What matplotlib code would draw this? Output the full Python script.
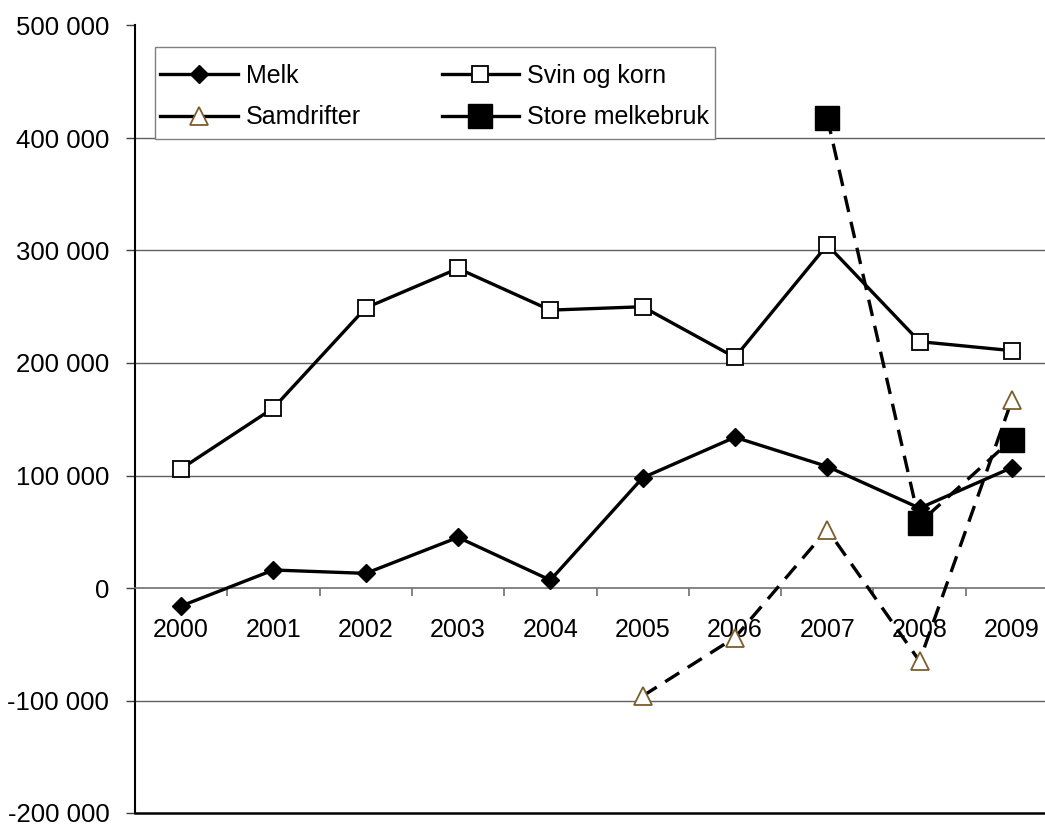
import matplotlib
matplotlib.use("Agg")
import matplotlib.pyplot as plt
from matplotlib.lines import Line2D
from matplotlib.patches import Rectangle
from matplotlib.ticker import FixedLocator, FuncFormatter

plt.rcParams['font.family'] = ['Liberation Sans', 'DejaVu Sans']

years = ['2000', '2001', '2002', '2003', '2004', '2005', '2006', '2007', '2008', '2009']
melk = [-16000, 16000, 13000, 45000, 7000, 98000, 134000, 108000, 71000, 107000]
svin_og_korn = [106000, 160000, 249000, 284000, 247000, 250000, 205000, 305000, 219000, 211000]
samdrifter_years = ['2005', '2006', '2007', '2008', '2009']
samdrifter = [-96000, -44000, 52000, -65000, 167000]
store_years = ['2007', '2008', '2009']
store_melkebruk = [418000, 58000, 132000]

W, H = 1045, 825
fig = plt.figure(figsize=(W / 100, H / 100), dpi=100)
ax = fig.add_axes([135 / W, 1 - 813 / H, (1058 - 135) / W, (813 - 25.5) / H])

pos = {y: i for i, y in enumerate(years)}
x_all = [pos[y] for y in years]
x_sam = [pos[y] for y in samdrifter_years]
x_store = [pos[y] for y in store_years]

lw = 2.4
dash = (0, (5, 3))
brown = '#7b5e2c'

st_melk = dict(color='black', lw=lw, marker='D', ms=8.8, mfc='black', mec='black')
st_svin = dict(color='black', lw=lw, marker='s', ms=11.5, mfc='white', mec='black', mew=1.3)
st_sam = dict(color='black', lw=lw, marker='^', ms=13.5, mfc='white', mec=brown, mew=1.3)
st_store = dict(color='black', lw=lw, marker='s', ms=17, mfc='black', mec='black')

ax.plot(x_all, melk, zorder=3, **st_melk)
ax.plot(x_all, svin_og_korn, zorder=3, **st_svin)
ax.plot(x_sam, samdrifter, ls=dash, zorder=3, **st_sam)
ax.plot(x_store, store_melkebruk, ls=dash, zorder=3, **st_store)

ax.set_xlim(-0.5, len(years) - 0.5)
ax.set_ylim(-200000, 500000)

# gridlines
for g in [-100000, 100000, 200000, 300000, 400000]:
    ax.axhline(g, color='#606060', lw=1.0, zorder=1)
ax.axhline(-200000, color='black', lw=1.8, zorder=1, clip_on=False)

for s in ['top', 'right']:
    ax.spines[s].set_visible(False)
ax.spines['left'].set_color('black')
ax.spines['left'].set_linewidth(1.5)
ax.spines['bottom'].set_position(('data', 0))
ax.spines['bottom'].set_color('#707070')
ax.spines['bottom'].set_linewidth(1.2)

ax.yaxis.set_major_locator(FixedLocator(list(range(-200000, 500001, 100000))))
ax.yaxis.set_major_formatter(FuncFormatter(lambda v, p: f"{v:,.0f}".replace(',', ' ')))
ax.tick_params(axis='y', direction='out', length=6.5, width=1, color='#404040',
               pad=12, labelsize=18.5)

ax.xaxis.set_major_locator(FixedLocator([i + 0.5 for i in range(len(years) - 1)]))
ax.xaxis.set_minor_locator(FixedLocator(x_all))
ax.xaxis.set_major_formatter(FuncFormatter(lambda v, p: ''))
ax.xaxis.set_minor_formatter(FuncFormatter(lambda v, p: years[int(round(v))]))
ax.tick_params(axis='x', which='major', direction='out', length=6, width=1.2, color='#707070')
ax.tick_params(axis='x', which='minor', length=0, pad=21.5, labelsize=18)

# legend frame (drawn separately so the padding matches the reference)
frame = Rectangle((155 / W, 1 - 139 / H), 560 / W, 92 / H, transform=fig.transFigure,
                  facecolor='white', edgecolor='#808080', lw=1.0, zorder=4, clip_on=False)
ax.add_patch(frame)

handles = [Line2D([], [], **st_melk), Line2D([], [], **st_sam),
           Line2D([], [], **st_svin), Line2D([], [], **st_store)]
labels = ['Melk', 'Samdrifter', 'Svin og korn', 'Store melkebruk']
leg = ax.legend(handles, labels, ncol=2, loc='upper left',
                bbox_to_anchor=(160 / W, 1 - 64 / H),
                bbox_transform=fig.transFigure, fontsize=18, frameon=False,
                handlelength=3.1, handletextpad=0.32, columnspacing=3.24,
                labelspacing=0.69, borderpad=0, borderaxespad=0)
leg.set_zorder(5)

fig.savefig('out.png', dpi=100)
